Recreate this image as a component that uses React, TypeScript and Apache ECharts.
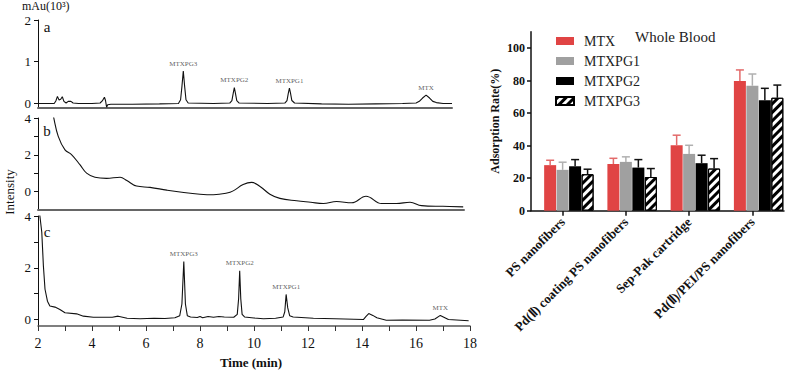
import React, { useEffect, useRef } from 'react';
import * as echarts from 'echarts';

const FONT = '"Liberation Serif", "Times New Roman", Times, serif';

// Chromatogram traces: [retention time (min), intensity]
const traceA: [number, number][] = [
  [2.0, -0.01], [2.3, -0.01], [2.6, -0.01], [2.66, 0.05], [2.72, 0.16], [2.78, 0.07],
  [2.84, 0.09], [2.9, 0.15], [2.96, 0.04], [3.04, 0.0], [3.12, 0.04], [3.22, 0.04],
  [3.3, 0.0], [3.5, -0.01], [4.0, -0.01], [4.3, 0.0], [4.38, 0.05], [4.46, 0.14],
  [4.5, 0.06], [4.54, -0.1], [4.58, -0.04], [4.7, -0.03], [5.5, -0.03], [6.5, -0.02],
  [7.2, -0.01], [7.28, 0.08], [7.33, 0.4], [7.38, 0.77], [7.43, 0.4], [7.48, 0.08],
  [7.56, 0.0], [8.5, -0.01], [9.1, 0.0], [9.18, 0.06], [9.23, 0.24], [9.27, 0.37],
  [9.31, 0.24], [9.36, 0.06], [9.45, 0.0], [10.5, -0.01], [11.14, 0.0], [11.22, 0.06],
  [11.27, 0.24], [11.31, 0.36], [11.35, 0.24], [11.4, 0.06], [11.5, 0.0], [12.5, -0.02],
  [13.5, -0.03], [14.5, -0.02], [15.5, -0.01], [16.0, 0.0], [16.12, 0.04], [16.24, 0.12],
  [16.37, 0.19], [16.5, 0.12], [16.62, 0.04], [16.75, 0.01], [17.0, -0.01], [17.33, -0.01],
];

const traceB: [number, number][] = [
  [2.5, 4.6], [2.57, 4.1], [2.75, 3.0], [3.0, 2.27], [3.25, 2.0], [3.56, 1.45], [3.8, 1.0],
  [4.11, 0.78], [4.54, 0.72], [5.04, 0.78], [5.29, 0.6], [5.65, 0.3], [6.15, 0.23],
  [6.77, 0.08], [7.4, -0.05], [8.0, -0.14], [8.5, -0.17], [9.0, -0.08], [9.23, 0.04],
  [9.6, 0.38], [9.91, 0.5], [10.25, 0.25], [10.59, -0.14], [10.96, -0.37], [11.58, -0.5],
  [12.1, -0.58], [12.57, -0.65], [13.06, -0.54], [13.62, -0.61], [14.15, -0.25],
  [14.73, -0.65], [15.28, -0.65], [15.78, -0.58], [16.21, -0.76], [17.0, -0.8], [17.75, -0.83],
];

const traceC: [number, number][] = [
  [2.02, 4.4], [2.07, 4.0], [2.14, 3.37], [2.2, 2.07], [2.26, 1.17], [2.35, 0.71],
  [2.44, 0.52], [2.63, 0.48], [2.81, 0.39], [3.0, 0.26], [3.43, 0.22], [3.68, 0.13],
  [4.05, 0.09], [4.75, 0.09], [4.97, 0.13], [5.3, 0.05], [5.78, 0.03], [6.3, 0.05],
  [6.7, 0.04], [7.07, 0.07], [7.25, 0.15], [7.33, 0.6], [7.4, 2.24], [7.46, 0.6],
  [7.53, 0.15], [7.65, 0.1], [7.9, 0.08], [8.0, 0.12], [8.1, 0.07], [8.3, 0.12],
  [8.5, 0.09], [8.7, 0.12], [8.9, 0.1], [9.25, 0.09], [9.38, 0.2], [9.43, 0.8],
  [9.47, 1.88], [9.51, 0.8], [9.56, 0.2], [9.65, 0.1], [10.0, 0.06], [10.35, 0.03],
  [10.8, 0.05], [11.08, 0.1], [11.14, 0.3], [11.19, 0.97], [11.25, 0.45], [11.32, 0.15],
  [11.45, 0.1], [12.2, 0.05], [13.0, 0.03], [14.05, 0.0], [14.15, 0.12], [14.25, 0.23],
  [14.4, 0.16], [14.55, 0.07], [14.9, -0.03], [15.5, -0.02], [16.5, -0.03], [16.7, 0.02],
  [16.9, 0.16], [17.05, 0.08], [17.2, 0.0], [17.95, -0.05],
];

// Peak annotations
const peakNames = ['MTXPG3', 'MTXPG2', 'MTXPG1', 'MTX'];
const peakTimesA = [7.38, 9.27, 11.31, 16.37];
const peakHeightsA = [0.77, 0.37, 0.36, 0.19];
const peakTimesC = [7.4, 9.47, 11.19, 16.9];
const peakHeightsC = [2.24, 1.88, 0.97, 0.16];

// Adsorption rates (%) with standard deviations
const categories = [
  'PS nanofibers',
  'Pd(Ⅱ) coating PS nanofibers',
  'Sep-Pak cartridge',
  'Pd(Ⅱ)/PEI/PS nanofibers',
];
const seriesNames = ['MTX', 'MTXPG1', 'MTXPG2', 'MTXPG3'];
const mtx = [28.0, 28.7, 40.2, 79.7];
const mtxErr = [3.0, 3.5, 6.2, 6.8];
const mtxpg1 = [25.1, 30.0, 34.9, 76.8];
const mtxpg1Err = [4.7, 3.1, 5.3, 7.2];
const mtxpg2 = [27.3, 26.5, 29.2, 67.8];
const mtxpg2Err = [4.1, 4.9, 4.9, 7.4];
const mtxpg3 = [22.4, 20.7, 25.9, 69.4];
const mtxpg3Err = [3.1, 5.2, 6.1, 7.8];

const BAR_W = 12;
const BAR_GAP = 0.04;

const App: React.FC = () => {
  const ref = useRef<HTMLDivElement>(null);

  useEffect(() => {
    if (!ref.current) return;
    const chart = echarts.init(ref.current, undefined, { renderer: 'svg' });

    const step = BAR_W * (1 + BAR_GAP);
    // slot 0 is an empty spacer bar, so visible series k sits in slot k + 1 of 5
    const slotOffset = (k: number) => (k - 1) * step;

    const errorSeries = (k: number, vals: number[], errs: number[], color: string) => ({
      type: 'custom',
      xAxisIndex: 3,
      yAxisIndex: 3,
      silent: true,
      z: 3,
      data: vals.map((v, i) => [i, v, errs[i]]),
      renderItem: (_p: any, api: any) => {
        const i = api.value(0);
        const v = api.value(1);
        const e = api.value(2);
        const base = api.coord([i, v]);
        const top = api.coord([i, v + e]);
        const x = base[0] + slotOffset(k);
        const style = { stroke: color, lineWidth: 1.5 };
        return {
          type: 'group',
          children: [
            { type: 'line', shape: { x1: x, y1: base[1], x2: x, y2: top[1] }, style },
            { type: 'line', shape: { x1: x - 4, y1: top[1], x2: x + 4, y2: top[1] }, style },
          ],
        };
      },
    });

    const leftY = (grid: number, min: number, max: number, ticks: number[], labels: number[]) => ({
      type: 'value',
      gridIndex: grid,
      min,
      max,
      axisLine: { show: true, onZero: false, lineStyle: { color: '#111', width: 1 } },
      axisTick: { show: true, length: 4, customValues: ticks, lineStyle: { color: '#111' } },
      axisLabel: { customValues: labels, fontFamily: FONT, fontSize: 13, color: '#111', margin: 7 },
      splitLine: { show: false },
    });

    const plainX = (grid: number, max: number) => ({
      type: 'value',
      gridIndex: grid,
      min: 2,
      max,
      axisLine: { show: true, onZero: false, lineStyle: { color: '#666', width: 2 } },
      axisTick: { show: false },
      axisLabel: { show: false },
      splitLine: { show: false },
    });

    const traceSeries = (idx: number, data: [number, number][], smooth: number | boolean) => ({
      type: 'line',
      xAxisIndex: idx,
      yAxisIndex: idx,
      data,
      smooth,
      showSymbol: false,
      silent: true,
      lineStyle: { color: '#111', width: 1.1 },
    });

    const labelSeries = (idx: number, times: number[], heights: number[]) => ({
      type: 'scatter',
      xAxisIndex: idx,
      yAxisIndex: idx,
      symbolSize: 0,
      silent: true,
      data: times.map((t, i) => ({ value: [t, heights[i]], name: peakNames[i] })),
      label: {
        show: true,
        position: 'top',
        distance: 4,
        formatter: (p: any) => p.name,
        fontFamily: FONT,
        fontSize: 7,
        color: '#333',
      },
    });

    const barColors = ['#e04444', '#a0a0a0', '#000000', '#ffffff'];
    const barData = [mtx, mtxpg1, mtxpg2, mtxpg3];
    const barSeries = seriesNames.map((name, k) => ({
      type: 'bar',
      name,
      xAxisIndex: 3,
      yAxisIndex: 3,
      data: barData[k],
      barWidth: BAR_W,
      barGap: `${BAR_GAP * 100}%`,
      itemStyle:
        k === 3
          ? {
              color: '#ffffff',
              borderColor: '#000',
              borderWidth: 1,
              decal: {
                symbol: 'rect',
                color: '#000',
                dashArrayX: [1, 0],
                dashArrayY: [2.5, 3],
                rotation: -Math.PI / 4,
              },
            }
          : { color: barColors[k] },
    }));

    const option: any = {
      animation: false,
      textStyle: { fontFamily: FONT },
      grid: [
        { left: 38, top: 20, width: 414, height: 88 },
        { left: 38, top: 118, width: 426, height: 92 },
        { left: 38, top: 216, width: 432, height: 110 },
        { left: 531, top: 31.7, right: 3, height: 179 },
      ],
      xAxis: [
        plainX(0, 17.33),
        plainX(1, 17.78),
        {
          type: 'value',
          gridIndex: 2,
          min: 2,
          max: 18,
          interval: 1,
          axisLine: { show: true, onZero: false, lineStyle: { color: '#555', width: 1.5 } },
          axisTick: { show: true, length: 5, lineStyle: { color: '#333' } },
          axisLabel: {
            formatter: (v: number) => (v % 2 === 0 ? String(v) : ''),
            fontFamily: FONT,
            fontSize: 14,
            color: '#111',
            margin: 10,
          },
          splitLine: { show: false },
        },
        {
          type: 'category',
          gridIndex: 3,
          data: categories,
          axisLine: { show: true, onZero: false, lineStyle: { color: '#111', width: 1.5 } },
          axisTick: { show: true, alignWithLabel: true, length: 5, lineStyle: { color: '#111', width: 1.5 } },
          axisLabel: {
            rotate: 45,
            interval: 0,
            fontFamily: FONT,
            fontSize: 13,
            fontWeight: 'bold',
            color: '#111',
            margin: 9,
          },
        },
      ],
      yAxis: [
        leftY(0, -0.12, 2, [0, 1, 2], [0, 1, 2]),
        leftY(1, -1, 4, [0, 1, 2, 3, 4], [0, 2, 4]),
        leftY(2, -0.25, 4, [0, 1, 2, 3, 4], [0, 2, 4]),
        {
          type: 'value',
          gridIndex: 3,
          min: 0,
          max: 110,
          name: 'Adsorption Rate(%)',
          nameLocation: 'middle',
          nameGap: 30,
          nameTextStyle: { fontFamily: FONT, fontSize: 12, fontWeight: 'bold', color: '#111' },
          axisLine: { show: true, lineStyle: { color: '#111', width: 1.5 } },
          axisTick: { show: true, length: 4, customValues: [0, 20, 40, 60, 80, 100], lineStyle: { color: '#111', width: 1.5 } },
          axisLabel: {
            customValues: [0, 20, 40, 60, 80, 100],
            fontFamily: FONT,
            fontSize: 12,
            fontWeight: 'bold',
            color: '#111',
            margin: 6,
          },
          splitLine: { show: false },
        },
      ],
      legend: {
        data: seriesNames,
        orient: 'vertical',
        left: 550,
        top: 29,
        itemWidth: 18,
        itemHeight: 8,
        itemGap: 6,
        icon: 'rect',
        textStyle: { fontFamily: FONT, fontSize: 14, color: '#222', padding: [0, 0, 0, 5] },
      },
      series: [
        traceSeries(0, traceA, false),
        traceSeries(1, traceB, 0.4),
        traceSeries(2, traceC, false),
        labelSeries(0, peakTimesA, peakHeightsA),
        labelSeries(2, peakTimesC, peakHeightsC),
        {
          type: 'bar',
          name: 'spacer',
          xAxisIndex: 3,
          yAxisIndex: 3,
          data: categories.map(() => null),
          barWidth: BAR_W,
          barGap: `${BAR_GAP * 100}%`,
          silent: true,
          itemStyle: { color: 'transparent' },
        },
        ...barSeries,
        errorSeries(0, mtx, mtxErr, '#e36a6a'),
        errorSeries(1, mtxpg1, mtxpg1Err, '#b0b0b0'),
        errorSeries(2, mtxpg2, mtxpg2Err, '#111'),
        errorSeries(3, mtxpg3, mtxpg3Err, '#111'),
      ],
      graphic: [
        {
          type: 'text',
          x: 22,
          y: 6,
          style: { text: 'mAu(10³)', fontFamily: FONT, fontSize: 12, fill: '#111', verticalAlign: 'middle' },
        },
        {
          type: 'text',
          x: 9,
          y: 192,
          rotation: Math.PI / 2,
          style: { text: 'Intensity', fontFamily: FONT, fontSize: 13, fill: '#111', align: 'center', verticalAlign: 'middle' },
        },
        { type: 'text', x: 47, y: 27, style: { text: 'a', fontFamily: FONT, fontSize: 15, fill: '#111', align: 'center', verticalAlign: 'middle' } },
        { type: 'text', x: 47, y: 131, style: { text: 'b', fontFamily: FONT, fontSize: 15, fill: '#111', align: 'center', verticalAlign: 'middle' } },
        { type: 'text', x: 47, y: 232, style: { text: 'c', fontFamily: FONT, fontSize: 15, fill: '#111', align: 'center', verticalAlign: 'middle' } },
        {
          type: 'text',
          x: 251,
          y: 362,
          style: { text: 'Time (min)', fontFamily: FONT, fontSize: 13, fontWeight: 'bold', fill: '#111', align: 'center', verticalAlign: 'middle' },
        },
        {
          type: 'text',
          x: 635,
          y: 37,
          style: { text: 'Whole Blood', fontFamily: FONT, fontSize: 15, fill: '#222', verticalAlign: 'middle' },
        },
      ],
    };

    chart.setOption(option);
    return () => chart.dispose();
  }, []);

  return (
    <div
      ref={ref}
      style={{ position: 'absolute', left: 0, top: 0, width: 787, height: 372, background: '#fff' }}
    />
  );
};

export default App;
